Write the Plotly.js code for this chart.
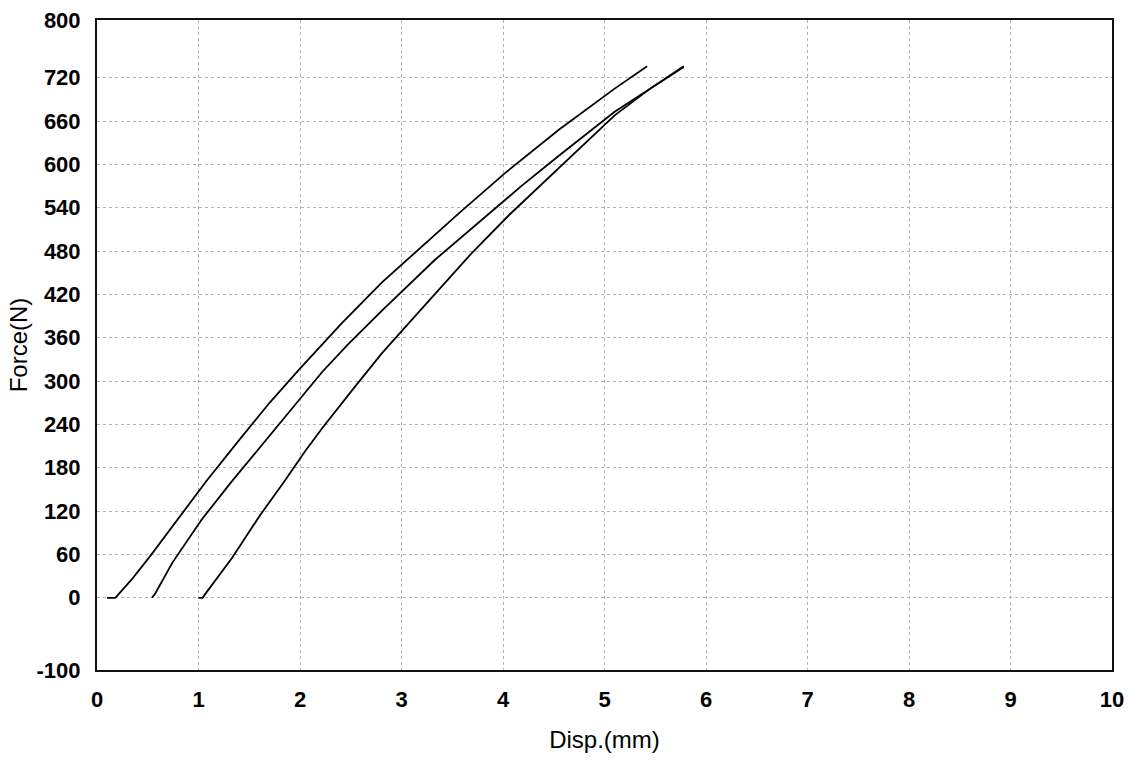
<!DOCTYPE html>
<html>
<head>
<meta charset="utf-8">
<script src="https://cdn.plot.ly/plotly-3.0.1.min.js"></script>
<style>
  html, body { margin: 0; padding: 0; background: #ffffff; }
  #chart { width: 1130px; height: 761px; }
</style>
</head>
<body>
<div id="chart"></div>
<script>
// Displacement (mm) and force (N)
var disp1  = [0.10, 0.18, 0.22, 0.34, 0.52, 0.72, 0.91, 1.08, 1.41, 1.70, 1.99, 2.41, 2.81, 3.07, 3.57, 4.02, 4.55, 5.10, 5.42];
var force1 = [0,    0,    6,    25,   57,   95,   131,  162,  220,  270,  316,  380,  437,  470,  533,  588,  648,  705,  736];

var disp2  = [0.54, 0.57, 0.74, 1.03, 1.31, 1.63, 2.22, 2.48, 2.81, 3.33, 4.18, 4.55, 5.10, 5.78];
var force2 = [0,    5,    48,   108,  158,  213,  313,  352,  398,  468,  570,  612,  673,  735];

var disp3  = [1.00, 1.04, 1.06, 1.33, 1.61, 1.84, 2.05, 2.22, 2.54, 2.81, 3.07, 3.69, 4.06, 4.55, 5.10, 5.45, 5.78];
var force3 = [0,    0,    4,    55,   115,  160,  203,  235,  292,  339,  380,  477,  530,  595,  668,  705,  736];

var xTicks = [0, 1, 2, 3, 4, 5, 6, 7, 8, 9, 10];
var yTicks = [-100, 0, 60, 120, 180, 240, 300, 360, 420, 480, 540, 600, 660, 720, 800];
var yTickText = ['-100', '0', '60', '120', '180', '240', '300', '360', '420', '480', '540', '600', '660', '720', '800'];

var lineStyle = { color: '#000000', width: 1.8 };
var traces = [
  { x: disp1, y: force1, mode: 'lines', line: lineStyle, hoverinfo: 'x+y', name: 'Test 1' },
  { x: disp2, y: force2, mode: 'lines', line: lineStyle, hoverinfo: 'x+y', name: 'Test 2' },
  { x: disp3, y: force3, mode: 'lines', line: lineStyle, hoverinfo: 'x+y', name: 'Test 3' }
];

var tickFont = { family: 'Liberation Sans, Arial, sans-serif', size: 22, color: '#000000', weight: 'bold' };
var titleFont = { family: 'Liberation Sans, Arial, sans-serif', size: 24, color: '#000000' };
var layout = {
  width: 1130,
  height: 761,
  paper_bgcolor: '#ffffff',
  plot_bgcolor: '#ffffff',
  showlegend: false,
  margin: { l: 97, r: 18, t: 20, b: 91 },
  xaxis: {
    range: [0, 10],
    tickvals: xTicks,
    ticktext: xTicks.map(String),
    tickfont: tickFont,
    ticks: '',
    ticklabelstandoff: 9,
    showline: true, mirror: true, linecolor: '#111111', linewidth: 2,
    showgrid: true, gridcolor: '#b4b4b4', gridwidth: 1, griddash: 'dot',
    zeroline: false,
    title: { text: 'Disp.(mm)', font: titleFont, standoff: 20 }
  },
  yaxis: {
    range: [-100, 800],
    tickvals: yTicks,
    ticktext: yTickText,
    tickfont: tickFont,
    ticks: '',
    ticklabelstandoff: 10,
    showline: true, mirror: true, linecolor: '#111111', linewidth: 2,
    showgrid: true, gridcolor: '#b4b4b4', gridwidth: 1, griddash: 'dot',
    zeroline: false,
    title: { text: 'Force(N)', font: titleFont, standoff: 2 }
  }
};

Plotly.newPlot('chart', traces, layout, { displayModeBar: false });
</script>
</body>
</html>
